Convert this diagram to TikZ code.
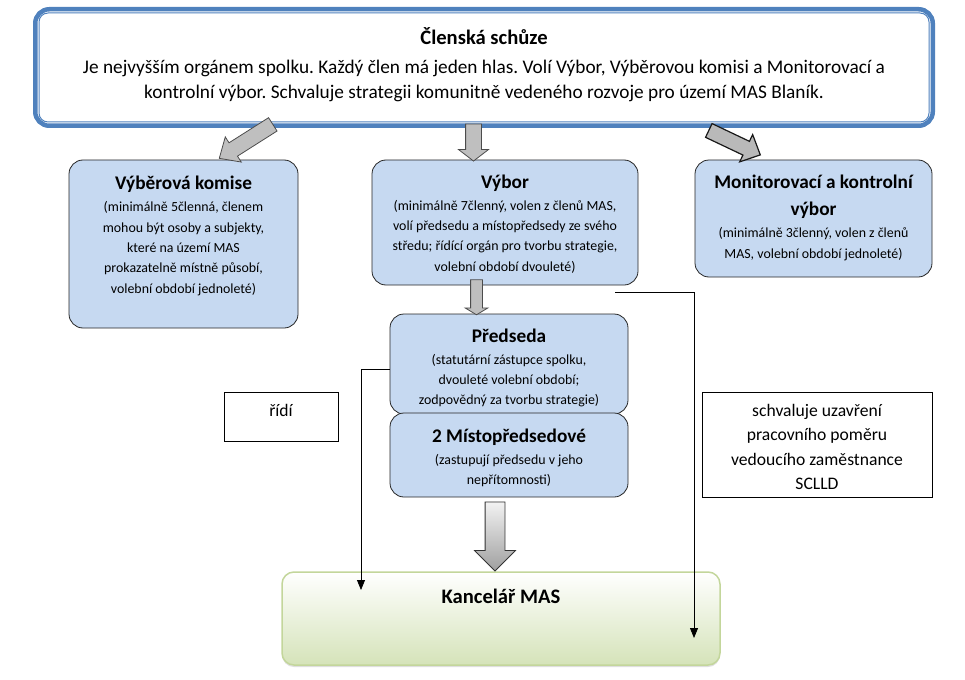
\documentclass[tikz,border=0pt]{standalone}
\usepackage{fontspec}
\setmainfont{Carlito}
\usetikzlibrary{shapes.arrows,shadows,arrows.meta}
\frenchspacing

\definecolor{orgblue}{RGB}{198,217,241}
\definecolor{rimblue}{RGB}{79,129,189}
\definecolor{arrowgray}{RGB}{191,191,191}
\definecolor{officegreen}{RGB}{213,227,185}
\definecolor{officerim}{RGB}{195,214,155}

\newcommand{\headf}{\fontsize{19.3}{22}\selectfont\bfseries}
\newcommand{\bighead}{\fontsize{20.6}{24}\selectfont\bfseries}
\newcommand{\smallf}{\fontsize{13.9}{20.3}\selectfont}

\tikzset{
  orgbox/.style={draw=black!85, fill=orgblue, rounded corners=14pt, line width=0.8pt},
  orgtext/.style={align=center, inner sep=0pt, font=\smallf},
  notebox/.style={draw=black, line width=0.8pt, fill=white},
  notetext/.style={align=center, inner sep=0pt, font=\fontsize{17.6}{24.5}\selectfont},
  fatarrow/.style={single arrow, draw=black!70, fill=arrowgray, inner sep=0pt, line width=0.8pt},
  thinline/.style={line width=0.8pt, -{Triangle[length=10pt,width=8pt]}}
}

\begin{document}
\begin{tikzpicture}[x=1pt,y=-1pt]
\useasboundingbox (0,0) rectangle (965,679);

% Clenska schuze
\node[draw=rimblue, line width=4.5pt, rounded corners=14pt, fill=white,
  minimum width=897.5, minimum height=116.5] (clen) at (484,67.5) {};
\draw[rimblue, line width=1pt, rounded corners=9pt]
  ([shift={(6,6)}]clen.north west) rectangle ([shift={(-6,-6)}]clen.south east);
\node[align=center, inner sep=0pt, font=\fontsize{19.3}{25}\selectfont] (clenT) at (484,64.5)
  {{\bighead Členská schůze}\\[4pt]
   Je nejvyšším orgánem spolku. Každý člen má jeden hlas. Volí Výbor, Výběrovou komisi a Monitorovací a\\
   kontrolní výbor. Schvaluje strategii komunitně vedeného rozvoje pro území MAS Blaník.};

% vybor, komise, monitorovaci vybor
\node[orgbox, minimum width=229, minimum height=168] (komise) at (183.5,244) {};
\node[orgtext] (komiseT) at (183.5,236)
  {{\headf Výběrová komise}\\[1.7pt]
   (minimálně 5členná, členem\\ mohou být osoby a subjekty,\\ které na území MAS\\
   prokazatelně místně působí,\\ volební období jednoleté)};

\node[orgbox, minimum width=266, minimum height=125] (vybor) at (505,222.5) {};
\node[orgtext] (vyborT) at (505,224)
  {{\headf Výbor}\\[1.7pt]
   (minimálně 7členný, volen z členů MAS,\\ volí předsedu a místopředsedy ze svého\\
   středu; řídící orgán pro tvorbu strategie,\\ volební období dvouleté)};

\node[orgbox, minimum width=237, minimum height=117] (moni) at (813.5,218.5) {};
\node[orgtext] (moniT) at (813.5,218)
  {{\headf Monitorovací a kontrolní}\\[6.7pt] {\headf výbor}\\[1.7pt]
   (minimálně 3členný, volen z členů\\ MAS, volební období jednoleté)};

% predseda a mistopredsedove
\node[orgbox, minimum width=238, minimum height=100] (predseda) at (509,364) {};
\node[orgtext] (predsedaT) at (509,368)
  {{\headf Předseda}\\[1.7pt]
   (statutární zástupce spolku,\\ dvouleté volební období;\\ zodpovědný za tvorbu strategie)};
\node[orgbox, minimum width=238, minimum height=84] (misto) at (509,455) {};
\node[orgtext] (mistoT) at (509,457.5)
  {{\headf 2 Místopředsedové}\\[1.7pt]
   (zastupují předsedu v jeho\\ nepřítomnosti)};

% kancelar
\node[draw=officerim, line width=1.5pt, rounded corners=12pt, top color=white, bottom color=officegreen,
  drop shadow={shadow xshift=0pt, shadow yshift=-2pt, opacity=0.25},
  minimum width=438, minimum height=93] (office) at (501,618.5) {};
\node[inner sep=0pt, font=\bighead] (officeT) at (501,596) {Kancelář MAS};

% poznamky
\node[notebox, minimum width=114, minimum height=49] (ridi) at (281,416.5) {};
\node[notetext] (ridiT) at (281,410) {řídí};
\node[notebox, minimum width=230, minimum height=105] (schval) at (817,444.5) {};
\node[notetext] (schvalT) at (817,447)
  {schvaluje uzavření\\ pracovního poměru\\ vedoucího zaměstnance\\ SCLLD};

% sipky
\node[fatarrow, inner ysep=7.5pt, single arrow head extend=7pt, single arrow tip angle=84,
  minimum height=63.4, rotate=212.4] (a1) at (249.75,139) {};
\node[fatarrow, inner ysep=7.5pt, single arrow head extend=7pt, single arrow tip angle=105,
  minimum height=37, rotate=270] (a2) at (473.5,139.5) {};
\node[fatarrow, inner ysep=7pt, single arrow head extend=7.5pt, single arrow tip angle=88,
  minimum height=57, rotate=-25.4, draw=black!90, line width=1.2pt, fill=gray!55] (a3) at (731,141) {};
\node[fatarrow, inner ysep=5.5pt, single arrow head extend=5.5pt, single arrow tip angle=118,
  minimum height=35, rotate=270] (a4) at (476.5,295.5) {};
\node[fatarrow, inner ysep=9.5pt, single arrow head extend=10.5pt, single arrow tip angle=90,
  minimum height=69, rotate=270, draw=black!80, top color=gray!10, bottom color=gray!75] (a5) at (495,531.5) {};

\coordinate (officeL) at (361,590);
\coordinate (vyborR) at (615,292);
\coordinate (officeR) at (694,638);
\draw[thinline] ([yshift=-5pt]predseda.west) -| (officeL);
\draw[thinline] (vyborR) -| (officeR);
\end{tikzpicture}
\end{document}
